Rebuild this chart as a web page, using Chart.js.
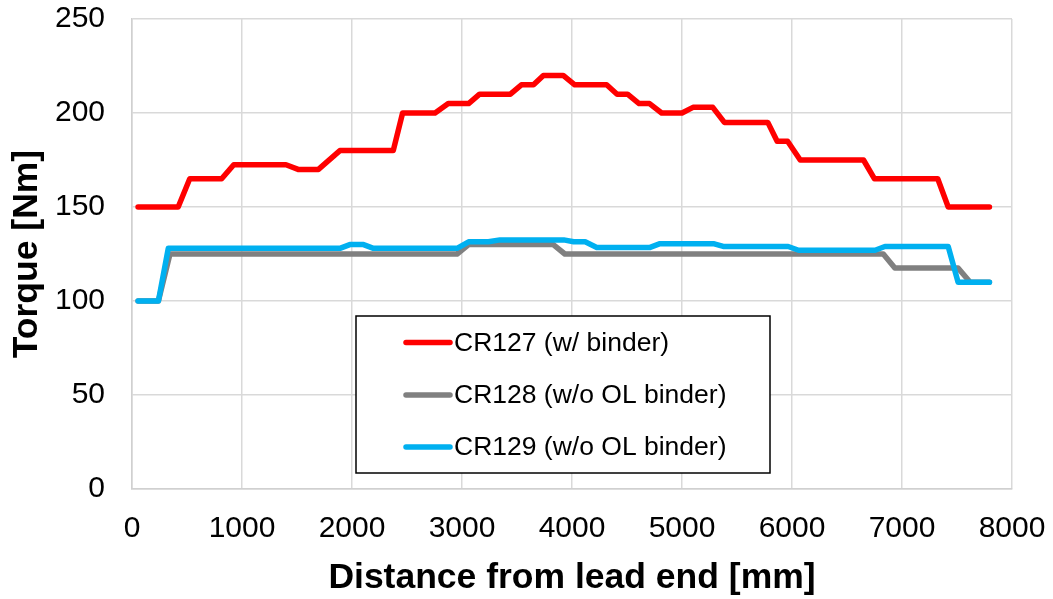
<!DOCTYPE html>
<html>
<head>
<meta charset="utf-8">
<script src="https://cdn.jsdelivr.net/npm/chart.js@4.4.0/dist/chart.umd.min.js"></script>
<style>
  html, body { margin: 0; padding: 0; background: #fff; }
  #wrap { width: 1053px; height: 599px; }
</style>
</head>
<body>
<div id="wrap"><canvas id="torque"></canvas></div>
<script>
// distance from lead end [mm] and torque [Nm], corners
const cr127X = [55, 420, 525, 815, 925, 1400, 1510, 1695, 1890, 2375, 2460, 2755, 2875, 3060, 3160, 3440, 3540, 3650, 3740, 3920,
                4025, 4315, 4410, 4505, 4610, 4705, 4815, 5000, 5100, 5280, 5385, 5780, 5865, 5960, 6075, 6650, 6750, 7325, 7420, 7795];
const cr127Y = [150, 150, 165, 165, 172.5, 172.5, 170, 170, 180, 180, 200, 200, 205, 205, 210, 210, 215, 215, 220, 220,
                215, 215, 210, 210, 205, 205, 200, 200, 203, 203, 195, 195, 185, 185, 175, 175, 165, 165, 150, 150];

const cr128X = [55, 240, 345, 2955, 3060, 3830, 3935, 6830, 6935, 7510, 7620, 7795];
const cr128Y = [100, 100, 125, 125, 130, 130, 125, 125, 117.5, 117.5, 110, 110];

const cr129X = [55, 240, 330, 1890, 1980, 2105, 2195, 2955, 3060, 3240, 3345, 3925, 4015,
                4120, 4225, 4710, 4800, 5285, 5375, 5965, 6060, 6755, 6845, 7420, 7510, 7795];
const cr129Y = [100, 100, 128, 128, 130, 130, 128, 128, 131.5, 131.5, 132.5, 132.5, 131.5,
                131.5, 128.5, 128.5, 130.5, 130.5, 129, 129, 127, 127, 129, 129, 110, 110];

const seriesNames = ['CR127 (w/ binder)', 'CR128 (w/o OL binder)', 'CR129 (w/o OL binder)'];
const seriesColors = ['#ff0000', '#808080', '#00b0f0'];
const xTicks = [0, 1000, 2000, 3000, 4000, 5000, 6000, 7000, 8000];
const yTicks = [0, 50, 100, 150, 200, 250];

const FONT = "'Liberation Sans', Arial, sans-serif";

function pts(xs, ys) {
  return xs.map((x, i) => ({ x: x, y: ys[i] }));
}

function series(i, xs, ys, order) {
  return {
    label: seriesNames[i],
    data: pts(xs, ys),
    showLine: true,
    borderColor: seriesColors[i],
    backgroundColor: seriesColors[i],
    borderWidth: 5.5,
    borderJoinStyle: 'round',
    borderCapStyle: 'round',
    pointRadius: 0,
    tension: 0,
    order: order
  };
}

// legend box sitting inside the plot, like the excel one
const boxLegend = {
  id: 'boxLegend',
  afterDraw(chart) {
    const ctx = chart.ctx;
    ctx.save();
    ctx.strokeStyle = '#000';
    ctx.lineWidth = 1.5;
    ctx.fillStyle = '#fff';
    ctx.fillRect(356, 316, 414, 157);
    ctx.strokeRect(356, 316, 414, 157);
    const rows = [342.5, 395, 447];
    ctx.font = '26.5px ' + FONT;
    ctx.textBaseline = 'middle';
    rows.forEach((y, i) => {
      ctx.strokeStyle = seriesColors[i];
      ctx.lineWidth = 5.5;
      ctx.lineCap = 'round';
      ctx.beginPath();
      ctx.moveTo(406, y);
      ctx.lineTo(450, y);
      ctx.stroke();
      ctx.fillStyle = '#000';
      ctx.fillText(seriesNames[i], 454, y + 1);
    });
    ctx.restore();
  }
};

new Chart(document.getElementById('torque'), {
  type: 'scatter',
  data: {
    datasets: [
      series(0, cr127X, cr127Y, 0),
      series(1, cr128X, cr128Y, 2),
      series(2, cr129X, cr129Y, 1)
    ]
  },
  options: {
    responsive: true,
    maintainAspectRatio: false,
    animation: false,
    layout: { padding: { top: 19, right: 41, left: 0, bottom: 0 } },
    plugins: {
      legend: { display: false },
      tooltip: { enabled: false }
    },
    scales: {
      x: {
        type: 'linear',
        min: 0,
        max: 8000,
        afterBuildTicks: (s) => { s.ticks = xTicks.map(v => ({ value: v })); },
        afterFit: (s) => { s.height = 110; s.paddingLeft = 0; s.paddingRight = 0; },
        grid: { color: '#d9d9d9', lineWidth: 1.5, drawTicks: false },
        border: { color: '#d0d0d0', width: 1.5 },
        ticks: {
          color: '#000', padding: 22, maxRotation: 0,
          font: { family: FONT, size: 30 },
          callback: (v) => String(v)
        },
        title: {
          display: true,
          text: 'Distance from lead end [mm]',
          color: '#000',
          padding: { top: 0, bottom: -1 },
          font: { family: FONT, size: 35.5, weight: 'bold' }
        }
      },
      y: {
        min: 0,
        max: 250,
        afterBuildTicks: (s) => { s.ticks = yTicks.map(v => ({ value: v })); },
        afterFit: (s) => { s.width = 132; s.paddingTop = 0; s.paddingBottom = 0; },
        grid: { color: '#d9d9d9', lineWidth: 1.5, drawTicks: false },
        border: { color: '#d0d0d0', width: 1.5 },
        ticks: { color: '#000', padding: 27, font: { family: FONT, size: 30 } },
        title: {
          display: true,
          text: 'Torque [Nm]',
          color: '#000',
          padding: { top: 6, bottom: 0 },
          font: { family: FONT, size: 35.5, weight: 'bold' }
        }
      }
    }
  },
  plugins: [boxLegend]
});
</script>
</body>
</html>
